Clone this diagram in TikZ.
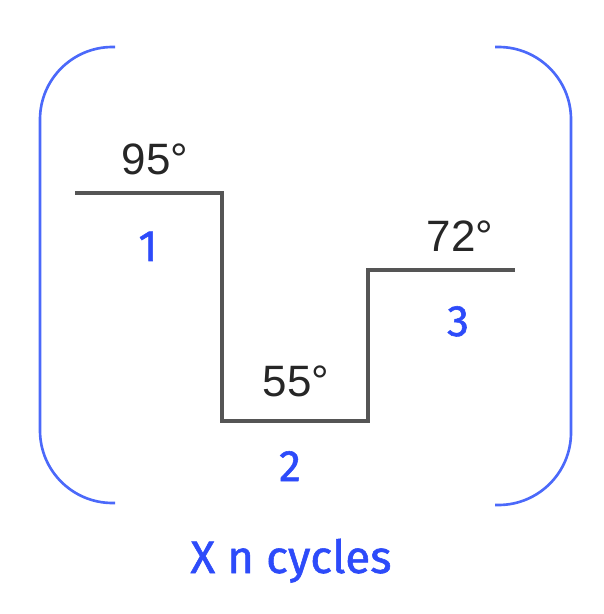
\documentclass[tikz,border=0pt]{standalone}
\usepackage{fontspec}
\setmainfont{Liberation Sans}
\newfontfamily\stagefont[FakeBold=1.2]{Fira Sans}
\usetikzlibrary{positioning}
\definecolor{stageblue}{RGB}{45,75,250}
\definecolor{bracketblue}{RGB}{75,105,250}
\definecolor{profilegray}{RGB}{85,85,85}

\begin{document}
\begin{tikzpicture}[x=0.02cm, y=-0.02cm,
  temp/.style={font=\fontsize{25}{30}\selectfont, text=black!85, inner sep=0pt, anchor=base},
  stage/.style={font=\stagefont\fontsize{25}{30}\selectfont, text=stageblue, inner sep=0pt, anchor=base},
  profile/.style={draw=profilegray, line width=1.8pt},
  bracket/.style={draw=bracketblue, line width=1.5pt, rounded corners=1.45cm}]

\useasboundingbox (0,0) rectangle (603,614);

% temperature profile
\coordinate (hold1) at (75,193);
\coordinate (drop1) at (222,193);
\coordinate (hold2) at (222,421);
\coordinate (rise2) at (368,421);
\coordinate (hold3) at (368,270);
\coordinate (end3) at (515,270);
\draw[profile] (hold1) -- (drop1) -- (hold2) -- (rise2) -- (hold3) -- (end3);

\node[temp] (t1) at (155,175) {95°};
\node[temp] (t2) at (296,396) {55°};
\node[temp] (t3) at (460,252) {72°};

\node[stage] (s1) at (148,261) {1};
\node[stage] (s2) at (290,481) {2};
\node[stage] (s3) at (458,336) {3};

% brackets
\draw[bracket] (115,47) -- (40,47) -- (40,503) -- (115,503);
\draw[bracket] (495,47) -- (571,47) -- (571,505) -- (495,505);

\node[stage, font=\stagefont\fontsize{26}{30}\selectfont] (cycles) at (291,573) {X n cycles};

\end{tikzpicture}
\end{document}
